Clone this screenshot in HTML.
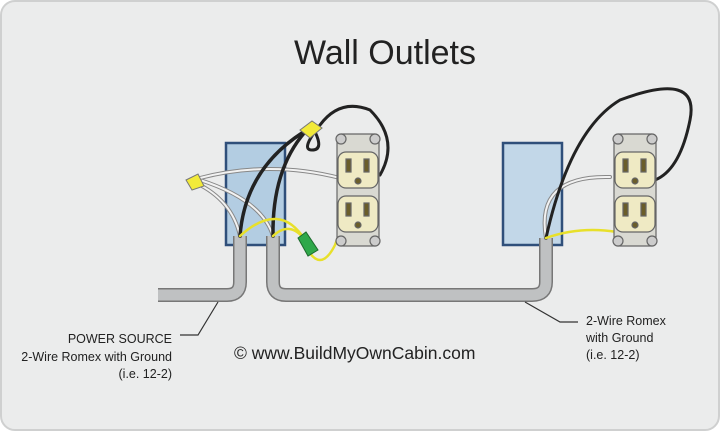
<!DOCTYPE html>
<html><head><meta charset="utf-8"><style>
html,body{margin:0;padding:0;width:720px;height:431px;overflow:hidden;background:#fff}
svg{display:block}
text{font-family:"Liberation Sans",sans-serif;fill:#222}
</style></head><body>
<svg width="720" height="431" viewBox="0 0 720 431" xmlns="http://www.w3.org/2000/svg">
<rect x="1" y="1" width="718" height="429" rx="14" fill="#ebecec" stroke="#cfd0d0" stroke-width="2"/>
<text x="385" y="64" font-size="34" text-anchor="middle">Wall Outlets</text>

<!-- boxes -->
<rect x="226" y="143" width="59" height="102" fill="#b3cde2" stroke="#2f4f7a" stroke-width="2.5"/>
<rect x="503" y="143" width="59" height="102" fill="#c2d7e8" stroke="#2f4f7a" stroke-width="2.5"/>

<!-- cables -->
<g fill="none" stroke-linejoin="round">
<path d="M240 236 V282 Q240 295 227 295 H158" stroke="#777" stroke-width="14"/>
<path d="M240 236 V282 Q240 295 227 295 H158" stroke="#bfc1c2" stroke-width="11"/>
<path d="M273 236 V282 Q273 295 286 295 H532 Q546 295 546 282 V238" stroke="#777" stroke-width="14"/>
<path d="M273 236 V282 Q273 295 286 295 H532 Q546 295 546 282 V238" stroke="#bfc1c2" stroke-width="11"/>
</g>

<!-- left wires -->
<g fill="none" stroke-linecap="round">
<path d="M240 236 Q232 200 196 183" stroke="#888" stroke-width="4"/>
<path d="M240 236 Q232 200 196 183" stroke="#f2f2f2" stroke-width="2"/>
<path d="M273 236 Q262 200 200 180" stroke="#888" stroke-width="4"/>
<path d="M273 236 Q262 200 200 180" stroke="#f2f2f2" stroke-width="2"/>
<path d="M200 178 Q270 160 340 178" stroke="#888" stroke-width="4"/>
<path d="M200 178 Q270 160 340 178" stroke="#f2f2f2" stroke-width="2"/>
<path d="M240 236 Q245 170 302 133" stroke="#222" stroke-width="3.5"/>
<path d="M273 236 Q272 170 305 132" stroke="#222" stroke-width="3.5"/>
<path d="M313 128 Q325 150 312 150 Q300 150 320 125 Q340 98 370 110 Q400 140 380 175" stroke="#222" stroke-width="3"/>
<path d="M240 236 Q280 200 305 240 M273 236 Q290 220 305 240 M305 245 Q320 275 335 245 L340 232" stroke="#e8e02a" stroke-width="2.5"/>
</g>
<polygon points="186,180 198,174 204,186 192,190" fill="#f2ea3a" stroke="#777"/>
<polygon points="300,130 312,121 322,128 310,138" fill="#f2ea3a" stroke="#777"/>
<polygon points="298,238 306,232 318,250 308,256" fill="#2fa84a" stroke="#1d6a2d"/>

<!-- right wires -->
<g fill="none" stroke-linecap="round">
<path d="M546 238 Q535 175 610 177" stroke="#888" stroke-width="4"/>
<path d="M546 238 Q535 175 610 177" stroke="#f2f2f2" stroke-width="2"/>
<path d="M546 238 Q570 130 620 100 Q700 70 690 120 Q680 170 655 180" stroke="#222" stroke-width="3"/>
<path d="M546 238 Q580 226 617 232" stroke="#e8e02a" stroke-width="2.5"/>
</g>

<!-- outlets -->
<g id="o1" stroke="#666" stroke-width="1.2">
<rect x="337" y="134" width="42" height="112" rx="4" fill="#d9d9d2"/>
<circle cx="341" cy="139" r="5" fill="#ccc"/><circle cx="375" cy="139" r="5" fill="#ccc"/>
<circle cx="341" cy="241" r="5" fill="#ccc"/><circle cx="375" cy="241" r="5" fill="#ccc"/>
<rect x="338" y="152" width="40" height="36" rx="8" fill="#efeac4"/>
<rect x="338" y="196" width="40" height="36" rx="8" fill="#efeac4"/>
<rect x="346" y="159" width="5" height="13" fill="#6b5e2a"/><rect x="364" y="159" width="5" height="13" fill="#6b5e2a"/>
<rect x="346" y="203" width="5" height="13" fill="#6b5e2a"/><rect x="364" y="203" width="5" height="13" fill="#6b5e2a"/>
<circle cx="358" cy="181" r="3" fill="#6b5e2a"/><circle cx="358" cy="225" r="3" fill="#6b5e2a"/>
</g>
<use href="#o1" transform="translate(277,0)"/>

<!-- leaders -->
<g fill="none" stroke="#333" stroke-width="1.2">
<path d="M218 302 L198 335 H180"/>
<path d="M525 302 L560 322 H578"/>
</g>

<g font-size="12.5">
<text x="172" y="343" text-anchor="end">POWER SOURCE</text>
<text x="172" y="361" text-anchor="end">2-Wire Romex with Ground</text>
<text x="172" y="378" text-anchor="end">(i.e. 12-2)</text>
<text x="586" y="325">2-Wire Romex</text>
<text x="586" y="342">with Ground</text>
<text x="586" y="359">(i.e. 12-2)</text>
</g>
<text x="234" y="359" font-size="17.5">© www.BuildMyOwnCabin.com</text>
</svg>
</body></html>
